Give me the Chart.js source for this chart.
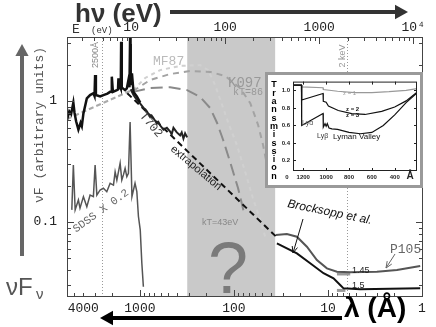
<!DOCTYPE html>
<html>
<head>
<meta charset="utf-8">
<title>Quasar SED</title>
<script src="https://cdn.jsdelivr.net/npm/chart.js@4.4.1/dist/chart.umd.min.js"></script>
<style>
  html, body { margin: 0; padding: 0; background: #fff; }
  #wrap { position: relative; width: 436px; height: 327px; overflow: hidden; }
  #sed { position: absolute; left: 0; top: 0; }
  #inset { position: absolute; left: 265px; top: 72px; width: 158px; height: 116px;
           box-sizing: border-box; border: 3px solid #9a9a9a; background: #fff; }
  #trans { display: block; }
</style>
</head>
<body>
<div id="wrap">
  <canvas id="sed" width="436" height="327"></canvas>
  <div id="inset"><canvas id="trans" width="152" height="110"></canvas></div>
</div>
<script>
// photon energy <-> wavelength, eV * Angstrom
const HC = 12398.4;

// axis ranges (energy in eV, nuFnu in arbitrary units)
const E_MIN = 2.08, E_MAX = 12700;
const F_MIN = 0.024, F_MAX = 3.38;

// tick labels
const topTicks = { 10: '10', 100: '100', 1000: '1000', 10000: '10⁴' };
const bottomTicks = [4000, 1000, 100, 10, 1];
const leftTicks = [1, 0.1];

// grey "unobservable" band and the two reference wavelengths
const bandE = [39.5, 340];
const markerE = [HC / 2500, 2000];

// composite quasar spectrum (black, thick)
const compE = [2.08, 2.2, 2.3, 2.43, 2.5, 2.6, 2.75, 2.9, 2.99, 3.11, 3.38, 3.66, 3.97, 4.08, 4.14, 4.22, 4.68, 5.07, 5.6, 5.98,
               6.12, 6.23, 6.4, 7.05, 7.25, 7.33, 7.45, 7.64, 7.76, 7.83, 7.95, 8.16, 8.63, 9.0, 9.36, 9.6, 9.75, 9.9, 10.2, 10.6, 11.5, 12.5];
const compF = [0.70, 0.82, 0.78, 0.97, 0.80, 0.68, 0.58, 0.66, 0.62, 0.79, 1.05, 1.12, 1.16, 1.10, 1.64, 1.12, 1.09, 1.12, 1.15, 1.19,
               1.19, 1.59, 1.19, 1.23, 1.25, 1.54, 1.28, 1.31, 1.27, 3.09, 1.30, 1.27, 1.23, 1.27, 1.49, 1.30, 3.38, 1.35, 1.69, 1.19, 1.09, 0.97];

// T702 far-UV composite
const t702E = [9.9, 10.6, 11.5, 12.5, 13.5, 14.2, 14.7, 15.9, 16.5, 17.3, 18.8, 19.5, 20.3, 22.1, 24.0, 26.0, 27.0, 28.2, 30.6, 33.2, 34.5, 36.0, 37.5, 39.4];
const t702F = [1.25, 1.12, 1.02, 0.95, 0.88, 0.85, 0.82, 0.74, 0.76, 0.72, 0.65, 0.67, 0.63, 0.58, 0.60, 0.56, 0.53, 0.60, 0.55, 0.52, 0.55, 0.49, 0.54, 0.50];

// SDSS composite x 0.2 (grey)
const sdssE = [2.34, 2.43, 2.54, 2.75, 2.86, 3.11, 3.38, 3.66, 3.97, 4.14, 4.32, 4.68, 5.07, 5.51, 5.98, 6.49, 6.76, 7.05, 7.64, 7.96,
               8.28, 8.63, 9.0, 9.36, 9.75, 10.2, 11.0, 11.5, 11.96, 12.5, 13.0, 13.5];
const sdssF = [0.126, 0.296, 0.126, 0.152, 0.130, 0.162, 0.134, 0.167, 0.162, 0.296, 0.167, 0.184, 0.190, 0.178, 0.209, 0.202, 0.260, 0.222, 0.306, 0.222,
               0.245, 0.278, 0.237, 0.253, 0.67, 0.162, 0.209, 0.178, 0.111, 0.086, 0.0456, 0.0292];

// optical power law and the EUV extrapolation
const powE = [2.08, 10.2];
const powF = [0.71, 1.23];
const extrE = [9.1, 345];
const extrF = [1.16, 0.0762];

// big blue bump models
const mf87E = [10.5, 14.1, 20.3, 33.2, 54.2, 65.9, 78.0, 92.9, 110, 131, 161, 197, 236, 273];
const mf87F = [1.23, 1.55, 1.80, 1.95, 1.98, 1.80, 1.36, 0.927, 0.634, 0.449, 0.269, 0.158, 0.104, 0.071];
const k097E = [10.5, 15.9, 26.0, 42.4, 69.2, 100, 144, 185, 224, 253, 285];
const k097F = [1.21, 1.49, 1.67, 1.77, 1.74, 1.61, 1.28, 0.96, 0.634, 0.433, 0.269];
const kt43E = [10.5, 15.9, 26.0, 39.4, 54.2, 69.2, 82.1, 95.2, 113, 137, 161];
const kt43F = [1.19, 1.28, 1.30, 1.23, 1.08, 0.875, 0.658, 0.476, 0.313, 0.191, 0.114];

// X-ray: P105 (photon index 1.45) and Brocksopp et al. (1.5)
const p105E = [345, 453, 579, 740, 945, 1208, 1543, 2137, 4110, 6710, 11860];
const p105F = [0.0781, 0.0796, 0.0756, 0.0625, 0.0485, 0.0414, 0.0388, 0.0384, 0.0388, 0.0401, 0.0433];
const brocE = [355, 579, 802, 1111, 1420, 1672, 1815, 2729, 11860];
const brocF = [0.0667, 0.0551, 0.0456, 0.0377, 0.0343, 0.0302, 0.0283, 0.0278, 0.0283];
const slope145E = [1543, 2137];
const slope145F = [0.0372, 0.0372];
const slope15E = [1543, 1900];
const slope15F = [0.0272, 0.0272];

// inset: Lyman forest transmission vs rest wavelength (Angstrom)
const insetTicksX = [1200, 1000, 800, 600, 400];
const insetTicksY = [0.2, 0.4, 0.6, 0.8, 1.0];
const z1L = [1290, 1216, 1214, 1027, 1025, 900, 750, 600, 450, 300, 205];
const z1T = [1.06, 1.06, 1.04, 1.03, 1.01, 0.99, 0.975, 0.975, 0.985, 1.0, 1.02];
const z2L = [1290, 1216, 1214, 1027, 1025, 1000, 980, 894, 776, 660, 514, 400, 300, 205];
const z2T = [1.06, 1.06, 0.89, 0.965, 0.875, 0.865, 0.82, 0.77, 0.735, 0.725, 0.76, 0.81, 0.88, 0.98];
const z3L = [1290, 1216, 1214, 1027, 1025, 1010, 1000, 990, 975, 950, 900, 800, 700, 600, 500, 400, 300, 205];
const z3T = [1.06, 1.06, 0.60, 0.735, 0.58, 0.62, 0.59, 0.62, 0.57, 0.56, 0.555, 0.52, 0.505, 0.52, 0.60, 0.72, 0.86, 0.97];

const MONO = 'Liberation Mono';
const SANS = 'Liberation Sans';

const pts = (xs, ys) => xs.map((x, i) => ({ x: x, y: ys[i] }));

function curve(label, xs, ys, color, width, dash) {
    return {
        label: label,
        data: pts(xs, ys),
        borderColor: color,
        borderWidth: width,
        borderDash: dash || [],
        pointRadius: 0,
        fill: false,
        xAxisID: 'xe',
        yAxisID: 'y'
    };
}

function near(v, list) {
    return list.find(t => Math.abs(v - t) / t < 1e-6);
}

// 1..9 x 10^n ticks inside [lo, hi], so every decade gets its minor marks
function logTicks(lo, hi) {
    const out = [];
    for (let n = Math.floor(Math.log10(lo)); n <= Math.ceil(Math.log10(hi)); n++) {
        for (let m = 1; m < 10; m++) {
            const v = m * Math.pow(10, n);
            if (v >= lo && v <= hi) out.push({ value: v });
        }
    }
    return out;
}

function txt(ctx, s, x, y, font, color, align, angle, baseline) {
    ctx.save();
    ctx.translate(x, y);
    if (angle) ctx.rotate(angle * Math.PI / 180);
    ctx.font = font;
    ctx.fillStyle = color;
    ctx.textAlign = align || 'left';
    ctx.textBaseline = baseline || 'alphabetic';
    ctx.fillText(s, 0, 0);
    ctx.restore();
}

// thin line with an open "V" head at (x1, y1)
function thinArrow(ctx, x0, y0, x1, y1, color) {
    const a = Math.atan2(y1 - y0, x1 - x0);
    ctx.save();
    ctx.strokeStyle = color;
    ctx.lineWidth = 1;
    ctx.beginPath();
    ctx.moveTo(x0, y0);
    ctx.lineTo(x1, y1);
    ctx.moveTo(x1 - 7 * Math.cos(a - 0.4), y1 - 7 * Math.sin(a - 0.4));
    ctx.lineTo(x1, y1);
    ctx.lineTo(x1 - 7 * Math.cos(a + 0.4), y1 - 7 * Math.sin(a + 0.4));
    ctx.stroke();
    ctx.restore();
}

// thick bar with a filled head at (x1, y1)
function bigArrow(ctx, x0, y0, x1, y1, color, width, head) {
    const a = Math.atan2(y1 - y0, x1 - x0);
    const bx = x1 - head * Math.cos(a), by = y1 - head * Math.sin(a);
    ctx.save();
    ctx.strokeStyle = color;
    ctx.fillStyle = color;
    ctx.lineWidth = width;
    ctx.beginPath();
    ctx.moveTo(x0, y0);
    ctx.lineTo(bx, by);
    ctx.stroke();
    ctx.beginPath();
    ctx.moveTo(x1, y1);
    ctx.lineTo(bx + head * 0.55 * Math.sin(a), by - head * 0.55 * Math.cos(a));
    ctx.lineTo(bx - head * 0.55 * Math.sin(a), by + head * 0.55 * Math.cos(a));
    ctx.closePath();
    ctx.fill();
    ctx.restore();
}

function inwardTicks(ctx, scale, side, area) {
    ctx.save();
    ctx.strokeStyle = '#444';
    ctx.lineWidth = 1;
    ctx.beginPath();
    scale.ticks.forEach(t => {
        const lg = Math.log10(t.value);
        const len = Math.abs(lg - Math.round(lg)) < 1e-6 ? 7 : 4;
        const p = Math.round(scale.getPixelForValue(t.value)) + 0.5;
        if (side === 'top') { ctx.moveTo(p, area.top); ctx.lineTo(p, area.top + len); }
        if (side === 'bottom') { ctx.moveTo(p, area.bottom); ctx.lineTo(p, area.bottom - len); }
        if (side === 'left') { ctx.moveTo(area.left, p); ctx.lineTo(area.left + len, p); }
        if (side === 'right') { ctx.moveTo(area.right, p); ctx.lineTo(area.right - len, p); }
    });
    ctx.stroke();
    ctx.restore();
}

const sedDecor = {
    id: 'sedDecor',
    beforeDatasetsDraw(chart) {
        const { ctx, chartArea: a, scales } = chart;
        const x0 = scales.xe.getPixelForValue(bandE[0]);
        const x1 = scales.xe.getPixelForValue(bandE[1]);
        ctx.save();
        ctx.fillStyle = '#c9c9c9';
        ctx.fillRect(x0, a.top, x1 - x0, a.bottom - a.top);
        ctx.restore();
    },
    afterDatasetsDraw(chart) {
        const { ctx, chartArea: a, scales } = chart;
        ctx.save();
        ctx.strokeStyle = '#444';
        ctx.lineWidth = 1;
        ctx.strokeRect(a.left + 0.5, a.top + 0.5, a.right - a.left - 1, a.bottom - a.top - 1);
        ctx.restore();
        inwardTicks(ctx, scales.xe, 'top', a);
        inwardTicks(ctx, scales.xl, 'bottom', a);
        inwardTicks(ctx, scales.y, 'left', a);
        inwardTicks(ctx, scales.y, 'right', a);
    },
    afterDraw(chart) {
        const ctx = chart.ctx;

        // outer axis names and arrows
        txt(ctx, 'hν (eV)', 75, 22, 'bold 26px ' + SANS, '#333');
        bigArrow(ctx, 170, 12, 408, 12, '#333', 4, 13);
        txt(ctx, 'λ (Å)', 344, 317, 'bold 28px ' + SANS, '#000');
        bigArrow(ctx, 342, 318, 100, 318, '#000', 4, 13);
        bigArrow(ctx, 22, 256, 22, 44, '#666', 4, 12);
        txt(ctx, 'νF', 6, 295, '24px ' + SANS, '#555');
        txt(ctx, 'ν', 36, 299, '15px ' + SANS, '#555');
        txt(ctx, 'νF (arbitrary units)', 40, 125, '13px ' + MONO, '#555', 'center', -90, 'middle');
        txt(ctx, 'E', 72, 33, '13px ' + MONO, '#333');
        txt(ctx, '(eV)', 91, 33, '9px ' + MONO, '#333');

        // in-plot labels
        txt(ctx, '2500Å', 96, 55, '9px ' + SANS, '#888', 'center', -90, 'middle');
        txt(ctx, '2 keV', 343, 56, '9px ' + SANS, '#999', 'center', -90, 'middle');
        txt(ctx, 'MF87', 153, 65, '13px ' + MONO, '#bbb');
        txt(ctx, 'K097', 228, 87, '14px ' + MONO, '#999');
        txt(ctx, 'kT=86', 233, 95, '10px ' + MONO, '#999');
        txt(ctx, 'T702', 151, 125, '12px ' + MONO, '#444', 'center', 50, 'middle');
        txt(ctx, 'SDSS X 0.2', 101, 211, '11px ' + MONO, '#666', 'center', -36, 'middle');
        txt(ctx, 'extrapolation', 196, 168, '11px ' + SANS, '#222', 'center', 40, 'middle');
        txt(ctx, 'kT=43eV', 202, 225, '9px ' + SANS, '#888');
        txt(ctx, '?', 228, 293, '72px ' + SANS, '#7a7a7a', 'center');
        txt(ctx, 'Brocksopp et al.', 287, 207, 'italic 12px ' + SANS, '#111', 'left', 11.5);
        txt(ctx, 'P105', 390, 253, '13px ' + MONO, '#666');
        txt(ctx, '1.45', 352, 273, '9px ' + SANS, '#222');
        txt(ctx, '1.5', 352, 288, '9px ' + SANS, '#222');
        thinArrow(ctx, 303, 219, 293, 253, '#111');
        thinArrow(ctx, 395, 254, 386, 268, '#666');
    }
};

const datasets = [
    curve('composite', compE, compF, '#111', 2.5),
    curve('T702', t702E, t702F, '#222', 2),
    curve('SDSS x 0.2', sdssE, sdssF, '#555', 1.5),
    curve('extrapolation', extrE, extrF, '#111', 2, [6, 4]),
    curve('P105', p105E, p105F, '#555', 2),
    curve('Brocksopp et al.', brocE, brocF, '#111', 2),
    curve('power law', powE, powF, '#aaa', 2, [5, 3]),
    curve('kT=43eV', kt43E, kt43F, '#8a8a8a', 2, [12, 6]),
    curve('K097', k097E, k097F, '#a3a3a3', 2, [6, 5]),
    curve('MF87', mf87E, mf87F, '#d0d0d0', 2, [4, 4]),
    curve('slope 1.45', slope145E, slope145F, '#999', 3),
    curve('slope 1.5', slope15E, slope15F, '#999', 3)
];
markerE.forEach(e => {
    datasets.push(curve('marker', [e, e], [F_MIN, F_MAX], '#999', 1, [1, 2]));
});

// tick marks are drawn inward by the plugin, so the library draws none
const noGrid = { display: false, drawTicks: false };

// axis boxes are sized by hand so the plot frame lands where the original has it
new Chart(document.getElementById('sed'), {
    type: 'line',
    data: { datasets: datasets },
    options: {
        responsive: false,
        animation: false,
        events: [],
        layout: { padding: { left: 0, right: 13, top: 0, bottom: 0 } },
        elements: { line: { tension: 0 }, point: { radius: 0 } },
        plugins: { legend: { display: false }, tooltip: { enabled: false } },
        scales: {
            xe: {
                type: 'logarithmic', position: 'top', min: E_MIN, max: E_MAX,
                afterFit: s => { s.height = 37; },
                afterBuildTicks: s => { s.ticks = logTicks(s.min, s.max); },
                grid: noGrid, border: { display: false },
                ticks: {
                    autoSkip: false, maxRotation: 0, padding: 2, color: '#222',
                    font: { family: MONO, size: 13 },
                    callback: v => { const k = near(v, [10, 100, 1000, 10000]); return k ? topTicks[k] : ''; }
                }
            },
            xl: {
                type: 'logarithmic', position: 'bottom', reverse: true,
                min: HC / E_MAX, max: HC / E_MIN,
                afterFit: s => { s.height = 30; },
                afterBuildTicks: s => { s.ticks = logTicks(s.min, s.max); },
                grid: noGrid, border: { display: false },
                ticks: {
                    autoSkip: false, maxRotation: 0, padding: 4, color: '#222',
                    font: { family: MONO, size: 13 },
                    callback: v => { const k = near(v, bottomTicks); return k ? String(k) : ''; }
                }
            },
            y: {
                type: 'logarithmic', position: 'left', min: F_MIN, max: F_MAX,
                afterFit: s => { s.width = 67; },
                afterBuildTicks: s => { s.ticks = logTicks(s.min, s.max); },
                grid: noGrid, border: { display: false },
                ticks: {
                    autoSkip: false, padding: 10, color: '#222',
                    font: { family: MONO, size: 13 },
                    callback: v => { const k = near(v, leftTicks); return k ? String(k) : ''; }
                }
            }
        }
    },
    plugins: [sedDecor]
});

// ---- inset: transmission through the Lyman forest ----
const insetDecor = {
    id: 'insetDecor',
    afterDatasetsDraw(chart) {
        const { ctx, chartArea: a, scales } = chart;
        ctx.save();
        ctx.strokeStyle = '#222';
        ctx.lineWidth = 1;
        ctx.strokeRect(a.left + 0.5, a.top + 0.5, a.right - a.left - 1, a.bottom - a.top - 1);
        ctx.beginPath();
        insetTicksX.forEach(v => {
            const p = Math.round(scales.x.getPixelForValue(v)) + 0.5;
            ctx.moveTo(p, a.bottom); ctx.lineTo(p, a.bottom - 3);
            ctx.moveTo(p, a.top); ctx.lineTo(p, a.top + 3);
        });
        insetTicksY.forEach(v => {
            const p = Math.round(scales.y.getPixelForValue(v)) + 0.5;
            ctx.moveTo(a.left, p); ctx.lineTo(a.left + 3, p);
            ctx.moveTo(a.right, p); ctx.lineTo(a.right - 3, p);
        });
        ctx.stroke();
        ctx.restore();
    },
    afterDraw(chart) {
        const ctx = chart.ctx;
        'Transmission'.split('').forEach((c, i) => {
            txt(ctx, c, 6, 10 + i * 8.3, 'bold 9px ' + SANS, '#000', 'center', 0, 'middle');
        });
        txt(ctx, '0', 19, 102, 'bold 6px ' + SANS, '#222', 'center', 0, 'middle');
        txt(ctx, 'Å', 142, 101, 'bold 10px ' + SANS, '#222', 'center', 0, 'middle');
        txt(ctx, 'z = 1', 75, 18, '6px ' + SANS, '#999', 'left', 0, 'middle');
        txt(ctx, 'z = 2', 78, 34, 'bold 6px ' + SANS, '#111', 'left', 0, 'middle');
        txt(ctx, 'z = 3', 78, 40, 'bold 6px ' + SANS, '#111', 'left', 0, 'middle');
        txt(ctx, 'Lyα', 34, 48, '7px ' + SANS, '#555', 'left', 0, 'middle');
        txt(ctx, 'Lyβ', 49, 61, '7px ' + SANS, '#333', 'left', 0, 'middle');
        txt(ctx, 'Lyman Valley', 65, 62, '8px ' + SANS, '#111', 'left', 0, 'middle');
    }
};

function insetLine(xs, ys, color, width) {
    return { data: pts(xs, ys), borderColor: color, borderWidth: width, pointRadius: 0, fill: false };
}

new Chart(document.getElementById('trans'), {
    type: 'line',
    data: {
        datasets: [
            insetLine(z3L, z3T, '#111', 1.2),
            insetLine(z2L, z2T, '#111', 1.2),
            insetLine(z1L, z1T, '#999', 1.2)
        ]
    },
    options: {
        responsive: false,
        animation: false,
        events: [],
        layout: { padding: { left: 0, right: 3, top: 1, bottom: 0 } },
        elements: { line: { tension: 0 }, point: { radius: 0 } },
        plugins: { legend: { display: false }, tooltip: { enabled: false } },
        scales: {
            x: {
                type: 'linear', reverse: true, min: 205, max: 1290,
                afterFit: s => { s.height = 14; },
                afterBuildTicks: s => { s.ticks = insetTicksX.map(v => ({ value: v })); },
                grid: noGrid, border: { display: false },
                ticks: { autoSkip: false, maxRotation: 0, padding: 3, color: '#222',
                         font: { family: SANS, size: 6, weight: 'bold' }, callback: v => String(v) }
            },
            y: {
                type: 'linear', min: 0.08, max: 1.1,
                afterFit: s => { s.width = 25; },
                afterBuildTicks: s => { s.ticks = insetTicksY.map(v => ({ value: v })); },
                grid: noGrid, border: { display: false },
                ticks: { autoSkip: false, padding: 3, color: '#222',
                         font: { family: SANS, size: 6, weight: 'bold' }, callback: v => v.toFixed(1) }
            }
        }
    },
    plugins: [insetDecor]
});
</script>
</body>
</html>
